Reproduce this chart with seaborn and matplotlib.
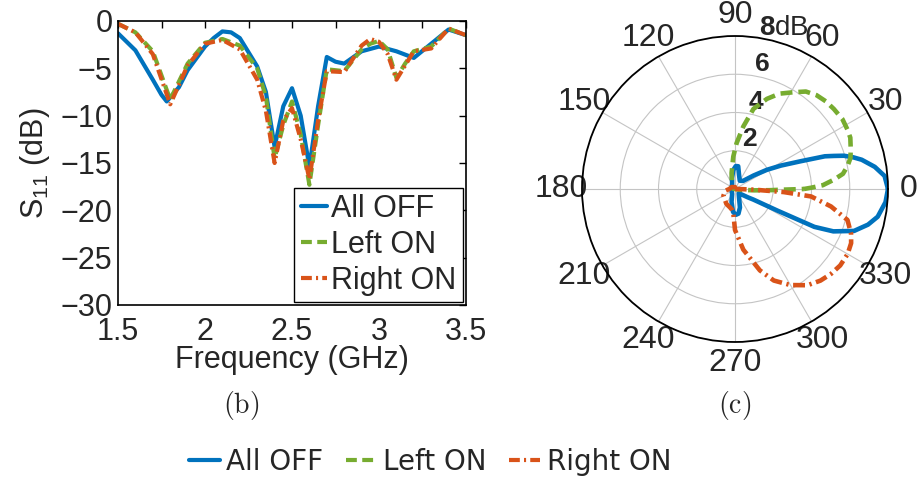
import numpy as np
import matplotlib
matplotlib.use("Agg")
import matplotlib.pyplot as plt
from matplotlib.ticker import MultipleLocator
import seaborn as sns

# S11 curves (GHz, dB)
freq_off = [1.5, 1.6, 1.7, 1.75, 1.78, 1.85, 1.9, 2.0, 2.05, 2.1, 2.15, 2.2, 2.3, 2.35,
            2.4, 2.45, 2.5, 2.55, 2.6, 2.65, 2.7, 2.75, 2.8, 2.9, 3.0, 3.1, 3.2, 3.3, 3.4, 3.5]
s11_off = [-1.3, -3.1, -6.2, -7.8, -8.5, -7.0, -5.2, -2.7, -1.8, -1.1, -1.2, -1.8, -4.8, -7.5,
           -13.3, -9.0, -7.1, -10.0, -15.4, -9.0, -3.8, -4.3, -4.5, -3.2, -2.7, -3.2, -3.9, -2.4, -0.9, -1.5]

freq_on = [1.5, 1.6, 1.7, 1.8, 1.9, 2.0, 2.1, 2.2, 2.3, 2.35, 2.4, 2.45, 2.5, 2.55, 2.6, 2.65,
           2.7, 2.8, 2.9, 2.95, 3.0, 3.05, 3.1, 3.15, 3.2, 3.3, 3.4, 3.5]
s11_left = [-0.3, -1.2, -3.2, -8.3, -4.5, -2.3, -1.9, -2.6, -5.0, -8.0, -14.5, -11.0, -8.5, -12.0,
            -17.3, -11.0, -5.1, -5.3, -3.0, -2.4, -2.1, -3.0, -6.0, -4.5, -3.2, -2.7, -0.8, -1.5]
s11_right = [-0.3, -1.2, -3.5, -8.8, -4.7, -2.4, -2.0, -3.0, -6.2, -9.5, -15.0, -10.5, -9.2, -12.5,
             -16.7, -10.5, -5.3, -5.4, -2.6, -1.9, -2.2, -3.5, -6.2, -4.7, -3.2, -2.9, -0.8, -1.5]

# radiation patterns (deg, dB above floor)
theta_off = [0, 5, 9, 13, 15, 17, 18.5, 20, 23, 27, 31, 36, 45, 60, 75, 82, 88, 95, 105, 120, 150,
             180, 210, 240, 255, 265, 272, 278, 285, 295, 310, 322, 327, 330, 333, 334.5, 336.7,
             340.6, 345, 349, 355, 360]
gain_off = [8.0, 7.85, 7.4, 6.8, 6.4, 5.95, 5.45, 5.0, 3.7, 2.7, 1.95, 1.2, 0.6, 0.5, 0.8, 1.2, 1.2,
            1.0, 0.6, 0.3, 0.2, 0.2, 0.2, 0.3, 0.7, 1.2, 1.35, 1.3, 1.0, 0.5, 0.3, 0.5, 0.8, 1.1,
            2.5, 4.6, 5.6, 6.6, 7.2, 7.6, 7.9, 8.0]

theta_left = [0, 1, 2.5, 5.4, 8, 11.5, 15, 19, 24, 28, 33, 39, 44, 49, 54, 59, 65, 70.5, 77, 82.4,
              88, 93, 102, 115, 140, 170, 200, 250, 300, 340, 352, 356, 358, 359.2, 360]
gain_left = [3.6, 4.0, 4.6, 5.2, 5.7, 6.0, 6.25, 6.4, 6.6, 6.65, 6.7, 6.65, 6.6, 6.5, 6.3, 5.9,
             5.5, 5.0, 4.3, 3.3, 2.4, 1.7, 0.86, 0.4, 0.2, 0.1, 0.0, 0.0, 0.0, 0.0, 0.3, 1.0,
             1.8, 2.5, 3.6]

theta_right = [0, 5, 30, 90, 150, 180, 190, 210, 240, 255, 262, 266, 270, 277.8, 287, 293, 300,
               307, 313, 318.5, 324, 330, 335, 339, 344.6, 349.7, 354.4, 356.4, 358, 359.5, 360]
gain_right = [0.0, 0.0, 0.0, 0.1, 0.2, 0.3, 0.5, 0.7, 0.9, 1.0, 1.1, 1.27, 2.14, 3.2, 4.45, 5.2,
              5.8, 6.3, 6.55, 6.7, 6.8, 6.8, 6.7, 6.5, 6.1, 5.1, 4.0, 2.55, 1.0, 0.2, 0.0]

labels = ["All OFF", "Left ON", "Right ON"]
colors = ["#0072BD", "#77AC30", "#D95319"]
styles = ["-", (0, (2.6, 1.3)), (0, (2.6, 1.0, 0.5, 1.0))]

sns.set_theme(style="white")
plt.rcParams["font.family"] = ["Liberation Sans", "DejaVu Sans"]
plt.rcParams["mathtext.fontset"] = "custom"
plt.rcParams["mathtext.rm"] = "Liberation Sans"
plt.rcParams["mathtext.bf"] = "Liberation Sans:bold"
plt.rcParams["axes.edgecolor"] = "black"

fig = plt.figure(figsize=(9.24, 4.82), dpi=100)

# ---- (b) S11 ----
ax = fig.add_axes([118 / 924, 1 - 305 / 482, 348 / 924, 284 / 482])
series = [(freq_off, s11_off), (freq_on, s11_left), (freq_on, s11_right)]
handles = []
for (f, s), lab, c, ls in zip(series, labels, colors, styles):
    sns.lineplot(x=f, y=s, ax=ax, color=c, lw=3, linestyle=ls, label=lab, sort=False)
    handles.append(ax.lines[-1])
ax.set_xlim(1.5, 3.5)
ax.set_ylim(-30, 0)
ax.xaxis.set_major_locator(MultipleLocator(0.5))
ax.xaxis.set_minor_locator(MultipleLocator(0.25))
ax.yaxis.set_major_locator(MultipleLocator(5))
ax.xaxis.set_major_formatter(plt.FuncFormatter(lambda v, p: f"{v:g}"))
ax.tick_params(which="both", direction="in", top=True, right=True, length=5,
               width=1, color="black", labelsize=22)
ax.tick_params(axis="x", pad=9)
ax.tick_params(axis="y", pad=4)
for sp in ax.spines.values():
    sp.set_linewidth(1.2)
ax.set_xlabel("Frequency (GHz)", fontsize=22, labelpad=-2)
ax.set_ylabel(r"$\mathrm{S_{11}}$ (dB)", fontsize=22, labelpad=6)
ax.legend(handles=handles, labels=labels, loc="lower right", bbox_to_anchor=(0.99, 0.01),
          fontsize=22, frameon=True, fancybox=False, framealpha=1, edgecolor="black",
          handlelength=0.85, handletextpad=0.15, labelspacing=0.2, borderpad=0.2,
          borderaxespad=0.0)

# ---- (c) pattern ----
pax = fig.add_axes([(735 - 153) / 924, 1 - (189 + 153) / 482, 306 / 924, 306 / 482],
                   projection="polar")
patterns = [(theta_off, gain_off), (theta_left, gain_left), (theta_right, gain_right)]
for (t, g), c, ls in zip(patterns, colors, styles):
    sns.lineplot(x=np.deg2rad(t), y=g, ax=pax, color=c, lw=3.3, linestyle=ls, sort=False)
if pax.get_legend() is not None:
    pax.get_legend().remove()
pax.set_ylim(0, 8)
pax.set_yticks([2, 4, 6, 8])
pax.set_yticklabels(["2", "4", "6", ""], fontsize=19, fontweight="bold")
pax.set_rlabel_position(80)
pax.set_thetagrids(np.arange(0, 360, 30), [str(a) for a in range(0, 360, 30)], fontsize=23)
pax.tick_params(axis="x", pad=2)
pax.grid(True, color="#c4c4c4", lw=0.8)
pax.spines["polar"].set_linewidth(1.3)
pax.spines["polar"].set_color("black")
pax.set_xlabel("")
pax.set_ylabel("")
pax.text(np.deg2rad(73), 8.8, r"$\mathbf{8}\mathrm{dB}$", fontsize=20, ha="center", va="center")

# captions
fig.text(241 / 924, 1 - 405 / 482, r"$\mathrm{(b)}$", math_fontfamily="cm", fontsize=20,
         ha="center", va="center")
fig.text(735 / 924, 1 - 405 / 482, r"$\mathrm{(c)}$", math_fontfamily="cm", fontsize=20,
         ha="center", va="center")

# shared legend at the bottom
fig.legend(handles=handles, labels=labels, loc="center", bbox_to_anchor=(430 / 924, 1 - 462 / 482),
           ncol=3, frameon=False, prop={"family": "DejaVu Sans", "size": 20},
           handlelength=1.1, handletextpad=0.25, columnspacing=0.8)

fig.savefig("out.png", dpi=100)
